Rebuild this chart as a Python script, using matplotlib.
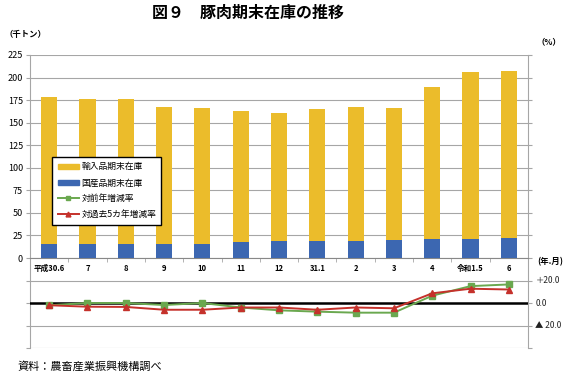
import matplotlib
matplotlib.use("Agg")
import matplotlib.pyplot as plt
import numpy as np
from matplotlib.lines import Line2D
from matplotlib.patches import Patch

plt.rcParams['font.family'] = ['Noto Sans CJK JP', 'DejaVu Sans']

categories = ["平成30.6", "7", "8", "9", "10", "11", "12", "31.1", "2", "3", "4", "令和1.5", "6"]
domestic = [16, 16, 16, 16, 16, 18, 19, 19, 19, 20, 21, 21, 22]
total = [178.5, 176, 176, 167.5, 166, 163, 161, 165, 167.5, 166, 189.5, 206, 207]
imported = [t - d for t, d in zip(total, domestic)]
yoy = [-2, 0, 0, -1.8, 0, -4, -6.5, -7.7, -8.6, -8.6, 6.5, 15, 16.5]
vs5y = [-2, -3.3, -3.5, -6, -6, -4, -4, -6, -4, -4.7, 8.6, 12.7, 12]
right_labels = ["＋20.0", "0.0", "▲ 20.0"]
right_vals = [20, 0, -20]

W, H = 565, 374
fig = plt.figure(figsize=(W / 100, H / 100), dpi=100)

def fx(px):
    return px / W

def fy(py):
    return 1 - py / H

L, R = 30, 528
ax2 = fig.add_axes([fx(L), fy(348), fx(R - L), fy(258) - fy(348)])
ax1 = fig.add_axes([fx(L), fy(258), fx(R - L), fy(55) - fy(258)])
ax2.patch.set_visible(False)

x = np.arange(len(categories))
yellow = "#EBBC2B"
blue = "#3C67B1"
green = "#6AA84F"
red = "#C5312B"
grid_c = "#A6A6A6"

ax1.bar(x, domestic, width=0.42, color=blue, zorder=3)
ax1.bar(x, imported, bottom=domestic, width=0.42, color=yellow, zorder=3)
ax1.set_xlim(-0.5, len(categories) - 0.5)
ax1.set_ylim(0, 225)
ax1.set_yticks(np.arange(0, 226, 25))
ax1.yaxis.grid(True, color=grid_c, lw=0.8, zorder=0)
ax1.tick_params(axis='y', labelsize=6.5, length=3, color=grid_c, pad=2)
ax1.set_xticks(x)
ax1.set_xticklabels(categories, fontsize=5.5, fontweight='bold')
ax1.tick_params(axis='x', length=0, pad=4)
ax1.set_xticks(np.arange(-0.5, len(categories), 1), minor=True)
ax1.tick_params(axis='x', which='minor', length=3, color=grid_c)
ax1.spines['top'].set_visible(False)
for s in ['left', 'right', 'bottom']:
    ax1.spines[s].set_color(grid_c)
ax1.spines['bottom'].set_color("#888888")
ax1.tick_params(axis='y', right=True, length=3, color=grid_c)

ax2.plot(x, yoy, color=green, marker='s', markersize=4, lw=1.4, zorder=4)
ax2.plot(x, vs5y, color=red, marker='^', markersize=4, lw=1.4, zorder=5)
ax2.set_xlim(-0.5, len(categories) - 0.5)
ax2.set_ylim(-40, 40)
ax2.set_yticks([-40, -20, 0, 20])
ax2.yaxis.grid(True, color=grid_c, lw=0.8, zorder=0)
ax2.axhline(0, color='black', lw=1.8, zorder=3)
ax2.set_yticklabels([])
ax2.tick_params(axis='y', length=3, color=grid_c, left=True, right=True)
ax2.set_xticks([])
ax2.spines['top'].set_visible(False)
for s in ['left', 'right']:
    ax2.spines[s].set_color(grid_c)
ax2.spines['bottom'].set_visible(False)
for v, lab in zip(right_vals, right_labels):
    ax2.text(1.015, v, lab, transform=ax2.get_yaxis_transform(), fontsize=6,
             va='center', ha='left', color='#222222')

fig.text(fx(248), 1 - 13 / H, "図９　豚肉期末在庫の推移", fontsize=11.5, fontweight='bold',
         ha='center', va='center')
fig.text(fx(4), fy(35), "（千トン）", fontsize=6, ha='left', va='center', fontweight='bold')
fig.text(fx(536), fy(42), "（%）", fontsize=6, ha='left', va='center', fontweight='bold')
fig.text(fx(563), fy(262), "(年.月)", fontsize=6, ha='right', va='center', fontweight='bold')
fig.text(fx(17), fy(366), "資料：農畜産業振興機構調べ", fontsize=8, ha='left', va='center')

handles = [Patch(color=yellow), Patch(color=blue),
           Line2D([], [], color=green, marker='s', markersize=3.5, lw=1.4),
           Line2D([], [], color=red, marker='^', markersize=3.5, lw=1.4)]
labels = ["輸入品期末在庫", "国産品期末在庫", "対前年増減率", "対過去5カ年増減率"]
leg = ax1.legend(handles, labels, loc='lower left',
                 bbox_to_anchor=((48 - L) / (R - L), (258 - 229) / 203),
                 fontsize=6.3, frameon=True, fancybox=False, framealpha=1,
                 handlelength=2.4, handleheight=0.6, labelspacing=0.8,
                 borderpad=0.6, handletextpad=0.3)
leg.get_frame().set_edgecolor('black')
leg.get_frame().set_linewidth(1.0)
leg.set_zorder(10)

fig.savefig("out.png", dpi=100)
